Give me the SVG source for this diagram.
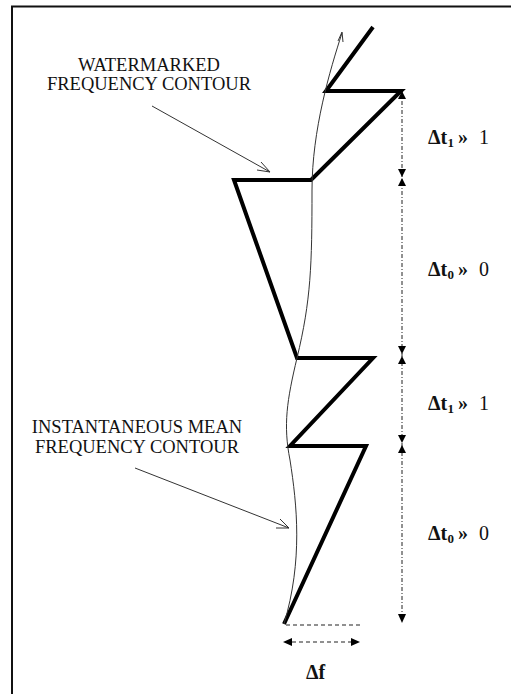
<svg xmlns="http://www.w3.org/2000/svg" width="511" height="694" viewBox="0 0 511 694">
<style>
.frame{fill:none;stroke:#111;stroke-width:2}
.thick{fill:none;stroke:#000;stroke-width:4;stroke-linejoin:miter;stroke-linecap:butt}
.thin{fill:none;stroke:#333;stroke-width:1}
.dim{fill:none;stroke:#222;stroke-width:1;stroke-dasharray:4 2 1 2}
.dash{fill:none;stroke:#222;stroke-width:1.2;stroke-dasharray:4 3}
.lbl{font-family:"Liberation Serif","Times New Roman",serif;font-size:18.5px;fill:#111}
.math{font-family:"Liberation Serif","Times New Roman",serif;font-size:20px;font-weight:bold;fill:#111}
.n{font-weight:normal}
.ah{fill:#000}
</style>
<rect width="511" height="694" fill="#fff"/>
<path class="frame" d="M12,694 V6.5 H511"/>

<g id="watermarked-contour">
<polyline class="thick" points="373,27 326,91 401,91 311,180 234,180 297,358 373,358 290,446 366,446 284,624"/>
</g>

<g id="mean-contour">
<path class="thin" d="M342,33 C330,70 312,130 312,190 C312,265 311,300 297,358 C287,400 283,425 290,460 C297,505 303,560 284,624"/>
<path class="thin" d="M338,41 L342,32 L343,42"/>
</g>

<g id="label-watermarked">
<text class="lbl" x="149" y="71" text-anchor="middle">WATERMARKED</text>
<text class="lbl" x="149" y="90" text-anchor="middle">FREQUENCY CONTOUR</text>
</g>
<g id="label-mean">
<text class="lbl" x="137" y="433" text-anchor="middle">INSTANTANEOUS MEAN</text>
<text class="lbl" x="137" y="453" text-anchor="middle">FREQUENCY CONTOUR</text>
</g>

<g id="connectors">
<line class="thin" x1="152" y1="106" x2="270" y2="172"/>
<path class="thin" d="M261,162 L270,172 L257,170"/>
<line class="thin" x1="135" y1="468" x2="289" y2="528"/>
<path class="thin" d="M280,519 L289,528 L276,528"/>

<line class="dim" x1="402" y1="92" x2="402" y2="618"/>
<polygon class="ah" points="402,91 398,99 406,99"/>
<polygon class="ah" points="402,177 398,169 406,169"/>
<polygon class="ah" points="402,178 398,186 406,186"/>
<polygon class="ah" points="402,354 398,346 406,346"/>
<polygon class="ah" points="402,356 398,364 406,364"/>
<polygon class="ah" points="402,443 398,435 406,435"/>
<polygon class="ah" points="402,445 398,453 406,453"/>
<polygon class="ah" points="402,623 398,614 406,614"/>

<line class="dash" x1="286" y1="625" x2="360" y2="625"/>
<line class="dash" x1="292" y1="642" x2="352" y2="642"/>
<polygon class="ah" points="283,642 292,638 292,646"/>
<polygon class="ah" points="360,642 351,638 351,646"/>
</g>

<g id="dt1-top">
<text class="math" y="144"><tspan x="428">Δt</tspan><tspan x="447.5" dy="3" font-size="13">1</tspan><tspan x="458" dy="-3">»</tspan><tspan class="n" x="479">1</tspan></text>
</g>
<g id="dt0-top">
<text class="math" y="276"><tspan x="428">Δt</tspan><tspan x="447.5" dy="3" font-size="13">0</tspan><tspan x="458" dy="-3">»</tspan><tspan class="n" x="479">0</tspan></text>
</g>
<g id="dt1-bottom">
<text class="math" y="410"><tspan x="428">Δt</tspan><tspan x="447.5" dy="3" font-size="13">1</tspan><tspan x="458" dy="-3">»</tspan><tspan class="n" x="479">1</tspan></text>
</g>
<g id="dt0-bottom">
<text class="math" y="540"><tspan x="428">Δt</tspan><tspan x="447.5" dy="3" font-size="13">0</tspan><tspan x="458" dy="-3">»</tspan><tspan class="n" x="479">0</tspan></text>
</g>
<g id="df">
<text class="math" x="306" y="679" font-size="21">Δf</text>
</g>
</svg>
